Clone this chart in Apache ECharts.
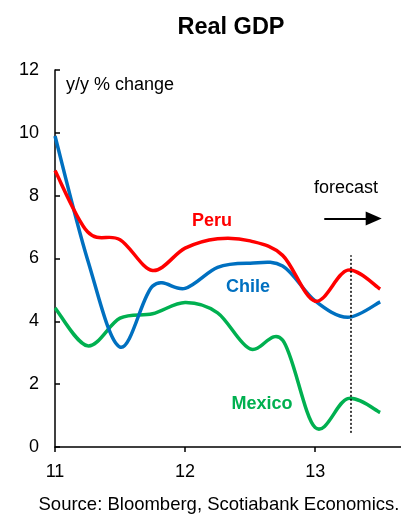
<!DOCTYPE html>
<html>
<head>
<meta charset="utf-8">
<script src="https://cdn.jsdelivr.net/npm/echarts@6/dist/echarts.min.js"></script>
<style>html,body{margin:0;padding:0;background:#fff}#c{width:401px;height:514px}</style>
</head>
<body>
<div id="c"></div>
<script>
const quarters = [11.0, 11.25, 11.5, 11.75, 12.0, 12.25, 12.5, 12.75, 13.0, 13.25, 13.5];
const peru   = [8.8, 6.85, 6.6, 5.62, 6.33, 6.63, 6.56, 6.1, 4.64, 5.63, 5.03];
const chile  = [9.9, 5.97, 3.18, 5.12, 5.05, 5.72, 5.85, 5.76, 4.65, 4.13, 4.62];
const mexico = [4.43, 3.22, 4.1, 4.24, 4.6, 4.27, 3.12, 3.4, 0.62, 1.54, 1.1];
const xTicks = [11, 12, 13];
const forecastStart = 13.27;

const font = 'Liberation Sans, Arial, sans-serif';

// Smooth curve (Catmull-Rom style, like spreadsheet smoothing) through points mapped by the axes
function smoothSeries(name, values, color, z) {
  return {
    name: name, type: 'custom', z: z,
    data: [[quarters[0], values[0]]],
    encode: {x: 0, y: 1},
    renderItem: function (params, api) {
      const p = quarters.map((q, i) => api.coord([q, values[i]]));
      const n = p.length;
      let d = 'M' + p[0][0] + ' ' + p[0][1];
      for (let i = 0; i < n - 1; i++) {
        const p0 = p[Math.max(i - 1, 0)], p1 = p[i], p2 = p[i + 1], p3 = p[Math.min(i + 2, n - 1)];
        const c1 = [p1[0] + (p2[0] - p0[0]) / 6, p1[1] + (p2[1] - p0[1]) / 6];
        const c2 = [p2[0] - (p3[0] - p1[0]) / 6, p2[1] - (p3[1] - p1[1]) / 6];
        d += ' C' + c1[0] + ' ' + c1[1] + ' ' + c2[0] + ' ' + c2[1] + ' ' + p2[0] + ' ' + p2[1];
      }
      return {
        type: 'path',
        shape: {pathData: d},
        style: {stroke: color, lineWidth: 3.5, fill: null, lineJoin: 'round', lineCap: 'butt'}
      };
    }
  };
}

const peruSeries = smoothSeries('Peru', peru, '#FF0000', 4);
peruSeries.markLine = {
  silent: true, animation: false, label: {show: false},
  data: [
    [
      {coord: [forecastStart, 0.45], symbol: 'none', lineStyle: {type: [2, 2], color: '#000', width: 1.5}},
      {coord: [forecastStart, 6.1], symbol: 'none'}
    ],
    [
      {coord: [13.07, 7.27], symbol: 'none', lineStyle: {type: 'solid', color: '#000', width: 2}},
      {coord: [13.45, 7.27], symbol: 'triangle', symbolSize: [14, 16]}
    ]
  ]
};

const chart = echarts.init(document.getElementById('c'), null, {renderer: 'canvas'});
chart.setOption({
  animation: false,
  textStyle: {fontFamily: font},
  title: {
    text: 'Real GDP', left: 226, top: 11, textAlign: 'center',
    textStyle: {fontFamily: font, fontSize: 23.5, fontWeight: 'bold', color: '#000'}
  },
  grid: {left: 55, right: 0, top: 70, bottom: 67, containLabel: false},
  xAxis: {
    type: 'value', min: 11, max: 13.66,
    axisLine: {show: true, lineStyle: {color: '#000', width: 1.5}},
    axisTick: {show: true, inside: false, length: 5, customValues: xTicks, lineStyle: {color: '#000', width: 1.5}},
    axisLabel: {customValues: xTicks, margin: 16, fontSize: 18, color: '#000', fontFamily: font},
    splitLine: {show: false}
  },
  yAxis: {
    type: 'value', min: 0, max: 12, interval: 2,
    axisLine: {show: true, lineStyle: {color: '#000', width: 1.5}},
    axisTick: {show: true, inside: true, length: 5, lineStyle: {color: '#000', width: 1.5}},
    axisLabel: {margin: 16, fontSize: 18, color: '#000', fontFamily: font},
    splitLine: {show: false}
  },
  series: [
    smoothSeries('Mexico', mexico, '#00B050', 2),
    smoothSeries('Chile', chile, '#0070C0', 3),
    peruSeries
  ],
  graphic: [
    {type: 'text', left: 66, top: 76, style: {text: 'y/y % change', font: '18px ' + font, fill: '#000'}},
    {type: 'text', left: 314, top: 179, style: {text: 'forecast', font: '18px ' + font, fill: '#000'}},
    {type: 'text', x: 212, y: 221, style: {text: 'Peru', font: 'bold 18px ' + font, fill: '#FF0000', align: 'center', verticalAlign: 'middle'}},
    {type: 'text', x: 248, y: 287, style: {text: 'Chile', font: 'bold 18px ' + font, fill: '#0070C0', align: 'center', verticalAlign: 'middle'}},
    {type: 'text', x: 262, y: 404, style: {text: 'Mexico', font: 'bold 18px ' + font, fill: '#00B050', align: 'center', verticalAlign: 'middle'}},
    {type: 'text', x: 219, y: 505, style: {text: 'Source: Bloomberg, Scotiabank Economics.', font: '18.5px ' + font, fill: '#000', align: 'center', verticalAlign: 'middle'}}
  ]
});
</script>
</body>
</html>
